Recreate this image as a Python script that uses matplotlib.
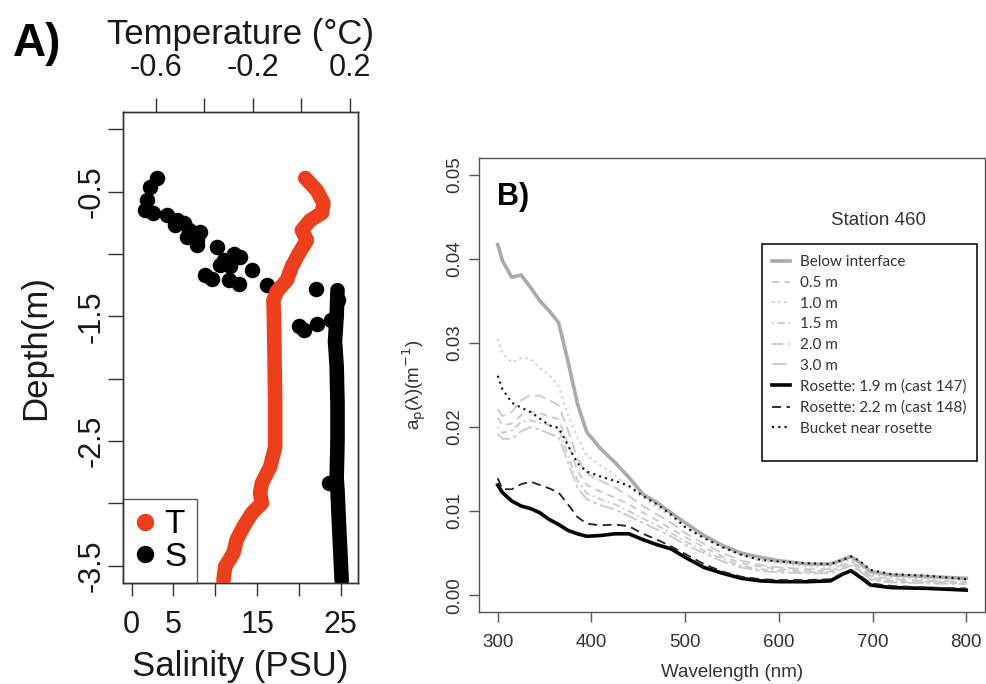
import matplotlib
matplotlib.use("Agg")
import matplotlib.pyplot as plt
from matplotlib.lines import Line2D
from matplotlib.patches import Rectangle

plt.rcParams['font.family'] = ['Liberation Sans', 'DejaVu Sans']

# ---------------- Panel A data ----------------
temp_depth = [-0.39, -0.49, -0.59, -0.67, -0.73, -0.81, -0.89, -1.00, -1.10, -1.21, -1.30,
              -1.37, -1.63, -2.17, -2.55, -2.71, -2.84, -2.92, -3.00, -3.08, -3.19, -3.29,
              -3.40, -3.51, -3.62]
temp_vals = [0.016, 0.064, 0.091, 0.085, 0.036, 0.002, 0.023, -0.012, -0.039, -0.060, -0.101,
             -0.115, -0.112, -0.108, -0.108, -0.129, -0.163, -0.170, -0.163, -0.204, -0.239,
             -0.266, -0.280, -0.314, -0.321]

sal_pts_depth = [-0.39, -0.46, -0.57, -0.65, -0.67, -0.69, -0.73, -0.75, -0.77, -0.81, -0.82,
                 -0.86, -0.89, -0.93, -0.94, -1.00, -1.02, -1.05, -1.09, -1.10, -1.13, -1.17,
                 -1.20, -1.21, -1.24, -1.25, -1.28, -1.58, -1.61, -1.56, -1.53, -1.37, -2.84]
sal_pts_vals = [3.0, 2.2, 1.8, 1.6, 2.6, 4.2, 5.4, 6.2, 5.2, 6.8, 8.2,
                6.6, 7.8, 7.8, 10.2, 12.2, 13.0, 11.0, 10.6, 11.8, 14.4, 8.8,
                9.6, 11.6, 12.8, 16.2, 22.0, 20.0, 20.6, 22.1, 23.8, 24.6, 23.6]
sal_band_depth = [-1.29, -1.50, -1.70, -1.90, -2.20, -2.50, -2.80, -2.90, -3.20, -3.62]
sal_band_vals = [24.6, 24.5, 24.3, 24.5, 24.6, 24.6, 24.5, 24.6, 24.8, 25.1]

depth_ticks = [0, -0.5, -1.0, -1.5, -2.0, -2.5, -3.0, -3.5]
depth_labels = ['', '-0.5', '', '-1.5', '', '-2.5', '', '-3.5']
sal_ticks = [0, 5, 10, 15, 20, 25]
sal_labels = ['0', '5', '', '15', '', '25']
temp_ticks = [-0.6, -0.4, -0.2, 0.0, 0.2]
temp_labels = ['-0.6', '', '-0.2', '', '0.2']

# ---------------- Panel B data ----------------
wl = [300, 305, 315, 325, 335, 345, 355, 365, 375, 385, 395, 410, 425, 440, 455, 470,
      485, 500, 520, 540, 560, 580, 600, 630, 655, 668, 677, 686, 698, 720, 760, 800]
below_interface = [0.0417, 0.0398, 0.0378, 0.0381, 0.0366, 0.0350, 0.0338, 0.0324, 0.0278, 0.0228,
                   0.0194, 0.0174, 0.0158, 0.0140, 0.0120, 0.0110, 0.0098, 0.0086, 0.0071, 0.0059,
                   0.0050, 0.0045, 0.0041, 0.0037, 0.0037, 0.0042, 0.0046, 0.0039, 0.0028, 0.0024,
                   0.0022, 0.0020]
m05 = [0.0211, 0.0202, 0.0204, 0.0214, 0.0218, 0.0216, 0.0213, 0.0209, 0.0180, 0.0148,
       0.0131, 0.0123, 0.0116, 0.0108, 0.0098, 0.0089, 0.0079, 0.0069, 0.0057, 0.0046,
       0.0038, 0.0034, 0.0031, 0.0029, 0.0029, 0.0034, 0.0038, 0.0032, 0.0021, 0.0017,
       0.0016, 0.0015]
m10 = [0.0305, 0.0287, 0.0277, 0.0282, 0.0281, 0.0270, 0.0262, 0.0248, 0.0214, 0.0188,
       0.0166, 0.0154, 0.0143, 0.0128, 0.0116, 0.0104, 0.0094, 0.0081, 0.0068, 0.0056,
       0.0047, 0.0041, 0.0038, 0.0034, 0.0034, 0.0039, 0.0042, 0.0036, 0.0025, 0.0021,
       0.0019, 0.0018]
m15 = [0.0200, 0.0193, 0.0196, 0.0206, 0.0208, 0.0205, 0.0202, 0.0198, 0.0166, 0.0136,
       0.0121, 0.0114, 0.0108, 0.0100, 0.0091, 0.0083, 0.0074, 0.0064, 0.0053, 0.0043,
       0.0035, 0.0031, 0.0029, 0.0027, 0.0028, 0.0032, 0.0036, 0.0030, 0.0019, 0.0016,
       0.0015, 0.0014]
m20 = [0.0221, 0.0213, 0.0218, 0.0232, 0.0238, 0.0237, 0.0232, 0.0226, 0.0196, 0.0163,
       0.0145, 0.0136, 0.0128, 0.0118, 0.0106, 0.0096, 0.0086, 0.0074, 0.0061, 0.0050,
       0.0041, 0.0036, 0.0033, 0.0031, 0.0031, 0.0036, 0.0040, 0.0034, 0.0023, 0.0019,
       0.0017, 0.0016]
m30 = [0.0192, 0.0186, 0.0186, 0.0195, 0.0200, 0.0197, 0.0192, 0.0188, 0.0158, 0.0128,
       0.0114, 0.0107, 0.0102, 0.0094, 0.0086, 0.0078, 0.0070, 0.0060, 0.0050, 0.0040,
       0.0033, 0.0029, 0.0027, 0.0026, 0.0026, 0.0031, 0.0035, 0.0029, 0.0018, 0.0015,
       0.0014, 0.0013]
ros147 = [0.0131, 0.0122, 0.0112, 0.0106, 0.0103, 0.0098, 0.0090, 0.0084, 0.0077, 0.0073,
          0.0070, 0.0071, 0.0073, 0.0073, 0.0066, 0.0060, 0.0055, 0.0045, 0.0033, 0.0026,
          0.0020, 0.0017, 0.0016, 0.0016, 0.0017, 0.0025, 0.0029, 0.0022, 0.0012, 0.0009,
          0.0008, 0.0006]
ros148 = [0.0139, 0.0126, 0.0126, 0.0132, 0.0135, 0.0131, 0.0127, 0.0122, 0.0108, 0.0093,
          0.0085, 0.0083, 0.0084, 0.0082, 0.0073, 0.0066, 0.0058, 0.0049, 0.0037, 0.0028,
          0.0022, 0.0019, 0.0018, 0.0018, 0.0019, 0.0026, 0.0030, 0.0024, 0.0014, 0.0011,
          0.0009, 0.0008]
bucket = [0.0261, 0.0245, 0.0229, 0.0223, 0.0218, 0.0210, 0.0202, 0.0199, 0.0178, 0.0157,
          0.0147, 0.0141, 0.0136, 0.0130, 0.0118, 0.0108, 0.0096, 0.0081, 0.0068, 0.0057,
          0.0048, 0.0042, 0.0040, 0.0038, 0.0037, 0.0042, 0.0046, 0.0041, 0.0030, 0.0025,
          0.0023, 0.0019]
series_labels = ['Below interface', '0.5 m', '1.0 m', '1.5 m', '2.0 m', '3.0 m',
                 'Rosette: 1.9 m (cast 147)', 'Rosette: 2.2 m (cast 148)', 'Bucket near rosette']
wl_ticks = [300, 400, 500, 600, 700, 800]
ap_ticks = [0.00, 0.01, 0.02, 0.03, 0.04, 0.05]

# ---------------- Figure ----------------
fig = plt.figure(figsize=(9.86, 6.84), dpi=100)
fig.patch.set_facecolor('white')
axis_col = '#333333'
red = '#EE3F1C'

# ---- Panel A ----
axA = fig.add_axes([0.1247, 0.1477, 0.2383, 0.6886])
axT = axA.twiny()
lw_band = 10.5
axA.plot(sal_band_vals, sal_band_depth, color='black', lw=lw_band,
         solid_capstyle='round', solid_joinstyle='round', zorder=2)
axA.scatter(sal_pts_vals, sal_pts_depth, s=125, color='black', zorder=2, linewidths=0)
axT.plot(temp_vals, temp_depth, color=red, lw=lw_band,
         solid_capstyle='round', solid_joinstyle='round', zorder=3)

axA.set_xlim(-1.04, 27.04)
axA.set_ylim(-3.64, 0.14)
axT.set_xlim(-0.735, 0.233)

axA.set_xticks(sal_ticks)
axA.set_xticklabels(sal_labels)
axA.set_yticks(depth_ticks)
axA.set_yticklabels(depth_labels, rotation=90, va='center')
axT.set_xticks(temp_ticks)
axT.set_xticklabels(temp_labels)

for a in (axA, axT):
    for sp in a.spines.values():
        sp.set_color(axis_col)
        sp.set_linewidth(1.0)
axA.tick_params(axis='x', direction='out', length=9.5, width=1, color=axis_col,
                labelsize=22, pad=10, labelcolor='#1a1a1a')
axA.tick_params(axis='y', direction='out', length=10.5, width=1, color=axis_col,
                labelsize=22, pad=1, labelcolor='#1a1a1a')
axT.tick_params(axis='x', direction='out', length=10, width=1, color=axis_col,
                labelsize=22, pad=11, labelcolor='#1a1a1a')
axA.set_xlabel('Salinity (PSU)', fontsize=25, labelpad=7, color='#1a1a1a')
axA.set_ylabel('Depth(m)', fontsize=25, labelpad=18, color='#1a1a1a')
axT.set_xlabel('Temperature (°C)', fontsize=25, labelpad=6, color='#1a1a1a')

legA_handles = [Line2D([], [], marker='o', ls='none', color=red, markersize=11.5),
                Line2D([], [], marker='o', ls='none', color='black', markersize=11.5)]
legA = axA.legend(legA_handles, ['T', 'S'], loc='lower left', fontsize=24,
                  frameon=True, fancybox=False, borderaxespad=0, borderpad=0.3,
                  handlelength=0.7, handletextpad=0.25, labelspacing=0.05)
legA.get_frame().set_edgecolor(axis_col)
legA.get_frame().set_linewidth(1.0)

fig.text(0.013, 0.968, 'A)', fontsize=33, fontweight='bold', va='top', ha='left')

# ---- Panel B ----
axB = fig.add_axes([0.4858, 0.1053, 0.5132, 0.6637])
lg = '#C9C9C9'
styles = [
    (below_interface, dict(color='#AAAAAA', lw=2.6, ls='-')),
    (m05, dict(color=lg, lw=1.3, ls=(0, (4, 3)))),
    (m10, dict(color=lg, lw=1.3, ls=(0, (1.2, 2.2)))),
    (m15, dict(color=lg, lw=1.3, ls=(0, (1, 2, 4, 2)))),
    (m20, dict(color=lg, lw=1.3, ls=(0, (6, 3)))),
    (m30, dict(color=lg, lw=1.3, ls=(0, (8, 2, 2, 2)))),
    (ros147, dict(color='black', lw=2.6, ls='-')),
    (ros148, dict(color='#222222', lw=1.3, ls=(0, (5, 3)))),
    (bucket, dict(color='#111111', lw=1.5, ls=(0, (1, 2)))),
]
handles = []
for (vals, st), lab in zip(styles, series_labels):
    ln, = axB.plot(wl, vals, label=lab, **st)
    handles.append(ln)

axB.set_xlim(280, 820)
axB.set_ylim(-0.002, 0.052)
axB.set_xticks(wl_ticks)
axB.set_xticklabels([str(v) for v in wl_ticks])
axB.set_yticks(ap_ticks)
axB.set_yticklabels(['%.2f' % v for v in ap_ticks], rotation=90, va='center')
for sp in axB.spines.values():
    sp.set_color('#555555')
    sp.set_linewidth(1.0)
axB.tick_params(axis='both', direction='out', length=7, width=1, color='#555555',
                labelsize=13.5, labelcolor='#333333')
axB.tick_params(axis='x', pad=9)
axB.tick_params(axis='y', pad=4)
axB.set_xlabel('Wavelength (nm)', fontsize=13.5, color='#333333', labelpad=9)
axB.set_ylabel(r'a$_\mathrm{p}$(λ)(m$^{-1}$)', fontsize=13.5, color='#333333', labelpad=13)

axB.text(0.0356, 0.948, 'B)', transform=axB.transAxes, fontsize=22,
         fontweight='bold', va='top', ha='left')
axB.text(0.79, 0.862, 'Station 460', transform=axB.transAxes, fontsize=13.5,
         ha='center', va='center', color='#333333')

axB.add_patch(Rectangle((0.5587, 0.3326), 0.4255, 0.4774, transform=axB.transAxes,
                        fill=False, edgecolor='black', lw=1.1, zorder=5))
legB = axB.legend(handles=handles, loc='upper left', bbox_to_anchor=(0.579, 0.786),
                  frameon=False, borderpad=0, borderaxespad=0,
                  prop={'family': 'Lato', 'size': 11},
                  handlelength=1.2, handletextpad=0.65, labelspacing=0.44)
for t in legB.get_texts():
    t.set_color('#333333')

fig.savefig('out.png', dpi=100, facecolor='white')
